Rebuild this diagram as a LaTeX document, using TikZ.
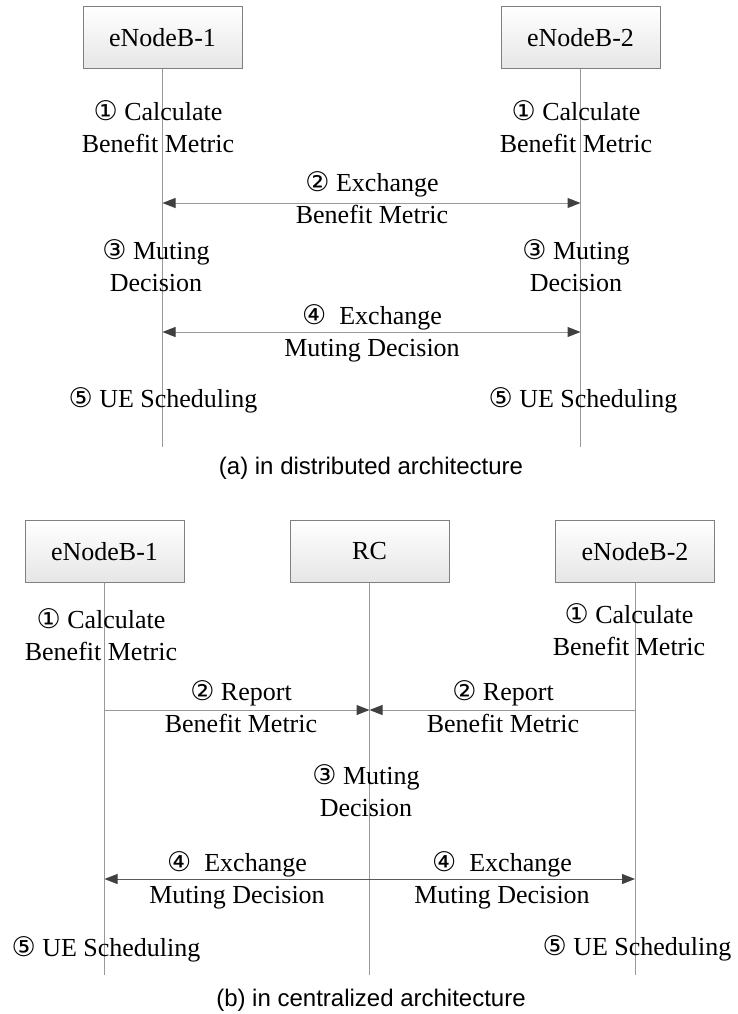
\documentclass[tikz,border=0pt]{standalone}
\usepackage{fontspec}
\setmainfont{Liberation Serif}
\newfontfamily\circfont{DejaVu Sans}
\newfontfamily\capfont{Liberation Sans}
\usetikzlibrary{arrows.meta}

\newcommand{\cnum}[1]{{\circfont\fontsize{27}{32}\selectfont #1}}

\tikzset{
  enb/.style={draw=gray, line width=1pt, top color=white, bottom color=black!10, minimum width=159pt, minimum height=62pt, font=\fontsize{26}{32}\selectfont, text=black},
  lifeline/.style={gray!80, line width=1pt},
  msg/.style={gray!80, line width=1pt, -{Triangle[length=13pt,width=10pt,color=black!75]}},
  dmsg/.style={gray!80, line width=1pt, {Triangle[length=13pt,width=10pt,color=black!75]}-{Triangle[length=13pt,width=10pt,color=black!75]}},
  lbl/.style={align=center, font=\fontsize{26}{32}\selectfont, text=black, inner sep=0pt},
  figcap/.style={font=\capfont\fontsize{24}{28}\selectfont, text=black, inner sep=0pt}
}

\begin{document}
\begin{tikzpicture}[x=1pt,y=-1pt]
\useasboundingbox (0,0) rectangle (737,1014);

% (a) distributed
\node[enb] (a1) at (162.5,38) {eNodeB-1};
\node[enb] (a2) at (580.5,38) {eNodeB-2};
\draw[lifeline] (a1) -- (a1 |- 0,447);
\draw[lifeline] (a2) -- (a2 |- 0,447);

\node[lbl] (a1calc) at (158,127) {\cnum{①} Calculate\\Benefit Metric};
\node[lbl] (a2calc) at (576,127) {\cnum{①} Calculate\\Benefit Metric};
\draw[dmsg] (a1 |- 0,203) -- (a2 |- 0,203);
\node[lbl] (abm) at (372,198) {\cnum{②} Exchange\\Benefit Metric};
\node[lbl] (a1mute) at (156,266) {\cnum{③} Muting\\Decision};
\node[lbl] (a2mute) at (576,266) {\cnum{③} Muting\\Decision};
\draw[dmsg] (a1 |- 0,332) -- (a2 |- 0,332);
\node[lbl] (amd) at (372,333) {\cnum{④}\enspace Exchange\\Muting Decision};
\node[lbl] (a1ue) at (163,400) {\cnum{⑤} UE Scheduling};
\node[lbl] (a2ue) at (583,400) {\cnum{⑤} UE Scheduling};
\node[figcap] (acap) at (371,468) {(a) in distributed architecture};

% (b) centralized
\node[enb] (b1) at (104.5,551.5) {eNodeB-1};
\node[enb] (rc) at (369.5,551.5) {RC};
\node[enb] (b2) at (635,551.5) {eNodeB-2};
\draw[lifeline] (b1) -- (b1 |- 0,975);
\draw[lifeline] (rc) -- (rc |- 0,975);
\draw[lifeline] (b2) -- (b2 |- 0,975);

\node[lbl] (b1calc) at (101,635) {\cnum{①} Calculate\\Benefit Metric};
\node[lbl] (b2calc) at (629,630) {\cnum{①} Calculate\\Benefit Metric};
\draw[msg] (b1 |- 0,710) -- (rc |- 0,710);
\draw[msg] (b2 |- 0,710) -- (rc |- 0,710);
\node[lbl] (b1rep) at (241,707) {\cnum{②} Report\\Benefit Metric};
\node[lbl] (b2rep) at (503,707) {\cnum{②} Report\\Benefit Metric};
\node[lbl] (rcmute) at (366,791) {\cnum{③} Muting\\Decision};
\draw[msg, black!65] (rc |- 0,879) -- (b1 |- 0,879);
\draw[msg, black!65] (rc |- 0,879) -- (b2 |- 0,879);
\node[lbl] (b1md) at (237,880) {\cnum{④}\enspace Exchange\\Muting Decision};
\node[lbl] (b2md) at (502,880) {\cnum{④}\enspace Exchange\\Muting Decision};
\node[lbl] (b1ue) at (106,949) {\cnum{⑤} UE Scheduling};
\node[lbl] (b2ue) at (637,948) {\cnum{⑤} UE Scheduling};
\node[figcap] (bcap) at (371,1000) {(b) in centralized architecture};
\end{tikzpicture}
\end{document}
